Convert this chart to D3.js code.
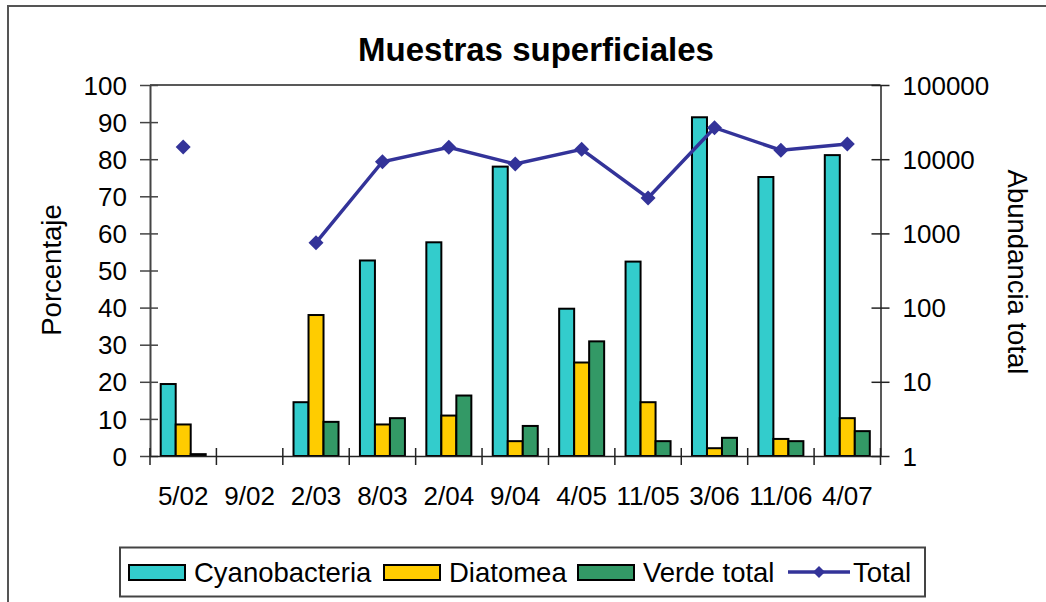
<!DOCTYPE html>
<html>
<head>
<meta charset="utf-8">
<script src="https://cdn.jsdelivr.net/npm/d3@7"></script>
<style>
html,body{margin:0;padding:0;background:#fff;}
svg{display:block;}
text{font-family:"Liberation Sans",Arial,sans-serif;fill:#000;}
</style>
</head>
<body>
<svg id="chart" width="1046" height="602"></svg>
<script>
const categories = ["5/02","9/02","2/03","8/03","2/04","9/04","4/05","11/05","3/06","11/06","4/07"];
const cyanobacteria = [19.4, null, 14.5, 52.7, 57.6, 78.0, 39.7, 52.4, 91.3, 75.2, 81.1];
const diatomea      = [8.5, null, 38.0, 8.5, 10.9, 4.0, 25.2, 14.5, 2.1, 4.6, 10.2];
const verdeTotal    = [0.5, null, 9.2, 10.2, 16.3, 8.1, 30.9, 4.0, 4.9, 4.0, 6.7];
const total         = [14600, null, 750, 9250, 14500, 8600, 13600, 3000, 26600, 13200, 16000];
const leftTicks  = [0,10,20,30,40,50,60,70,80,90,100];
const rightTicks = [1,10,100,1000,10000,100000];
const seriesNames = ["Cyanobacteria","Diatomea","Verde total","Total"];
const colors = ["#33CCCC","#FFCC00","#339966","#333399"];

const svg = d3.select("#chart");
const L = 150, R = 880.5, T = 85, B = 456;
const FS = 26;

// outer border
svg.append("rect").attr("x",8).attr("y",6).attr("width",1046).attr("height",610)
  .attr("fill","none").attr("stroke","#555").attr("stroke-width",2);

// title
svg.append("text").attr("x",536).attr("y",61).attr("text-anchor","middle")
  .style("font-size","33px").style("font-weight","bold").text("Muestras superficiales");

const x = d3.scaleBand().domain(categories).range([L,R]).padding(0);
const y = d3.scaleLinear().domain([0,100]).range([B,T]);
const yR = d3.scaleLog().domain([1,100000]).range([B,T]);

// top border of plot
svg.append("line").attr("x1",L).attr("x2",R).attr("y1",T).attr("y2",T).attr("stroke","#222").attr("stroke-width",1.5);

// bars
const barW = 15;
const series = [cyanobacteria, diatomea, verdeTotal];
const xs = d3.scaleBand().domain([0,1,2]).range([0, barW*3]);
series.forEach((vals, si) => {
  svg.append("g").selectAll("rect")
    .data(vals.map((v,i)=>({v, c:categories[i]})).filter(d=>d.v!=null))
    .join("rect")
    .attr("x", d => x(d.c) + x.bandwidth()/2 - barW*1.5 + xs(si))
    .attr("y", d => y(d.v))
    .attr("width", xs.bandwidth())
    .attr("height", d => B - y(d.v))
    .attr("fill", colors[si]).attr("stroke","#000").attr("stroke-width",2);
});

// left axis
const gl = svg.append("g").attr("transform",`translate(${L},0)`)
  .call(d3.axisLeft(y).tickValues(leftTicks).tickSize(0).tickPadding(23).tickSizeOuter(0));
gl.select(".domain").attr("stroke","#444").attr("stroke-width",2);
gl.selectAll(".tick line").remove();
gl.selectAll(".tick").append("line").attr("x1",-10).attr("x2",8).attr("stroke","#444").attr("stroke-width",1.5);
gl.selectAll("text").style("font-size",FS+"px").style("font-family","Liberation Sans, Arial, sans-serif").attr("fill","#000").attr("dy","0.35em");

// right axis
const gr = svg.append("g").attr("transform",`translate(${R},0)`)
  .call(d3.axisRight(yR).tickValues(rightTicks).tickFormat(d3.format("d")).tickSize(0).tickPadding(22).tickSizeOuter(0));
gr.select(".domain").attr("stroke","#222").attr("stroke-width",1.5);
gr.selectAll(".tick line").remove();
gr.selectAll(".tick").append("line").attr("x1",-9).attr("x2",9).attr("stroke","#222").attr("stroke-width",1.5);
gr.selectAll("text").style("font-size",FS+"px").style("font-family","Liberation Sans, Arial, sans-serif").attr("fill","#000").attr("dy","0.35em");

// bottom axis
const gb = svg.append("g").attr("transform",`translate(0,${B})`)
  .call(d3.axisBottom(x).tickSize(0).tickPadding(40).tickSizeOuter(0));
gb.select(".domain").attr("stroke","#222").attr("stroke-width",1.5);
gb.selectAll(".tick line").remove();
gb.selectAll("text").style("font-size",FS+"px").style("font-family","Liberation Sans, Arial, sans-serif").attr("fill","#000").attr("dy","0.35em");
const bTicks = x.domain().map(c => x(c)).concat([R]);
svg.append("g").selectAll("line").data(bTicks).join("line")
  .attr("x1",d=>d).attr("x2",d=>d).attr("y1",B-8).attr("y2",B+9)
  .attr("stroke","#222").attr("stroke-width",1.5);

// total line
const pts = total.map((v,i)=>({v, c:categories[i]}));
const line = d3.line().defined(d=>d.v!=null)
  .x(d=>x(d.c)+x.bandwidth()/2).y(d=>yR(d.v));
svg.append("path").datum(pts).attr("d",line).attr("fill","none")
  .attr("stroke",colors[3]).attr("stroke-width",3.5);
const diamond = (s) => `M0,${-s}L${s},0L0,${s}L${-s},0Z`;
svg.append("g").selectAll("path").data(pts.filter(d=>d.v!=null)).join("path")
  .attr("transform",d=>`translate(${x(d.c)+x.bandwidth()/2},${yR(d.v)})`)
  .attr("d",diamond(7.5)).attr("fill",colors[3]);

// axis titles
svg.append("text").attr("transform","translate(61,270) rotate(-90)").attr("text-anchor","middle")
  .style("font-size","27.5px").text("Porcentaje");
svg.append("text").attr("transform","translate(1008,272) rotate(90)").attr("text-anchor","middle")
  .style("font-size","27.5px").text("Abundancia total");

// legend
svg.append("rect").attr("x",120).attr("y",547.5).attr("width",805).attr("height",49)
  .attr("fill","#fff").attr("stroke","#444").attr("stroke-width",2);
const legX = [129, 384, 578, 788];
const lg = svg.append("g");
seriesNames.forEach((n,i) => {
  const g = lg.append("g").attr("transform",`translate(${legX[i]},0)`);
  if (i < 3) {
    g.append("rect").attr("x",0).attr("y",565).attr("width",56).attr("height",15)
      .attr("fill",colors[i]).attr("stroke","#000").attr("stroke-width",2);
    g.append("text").attr("x",65).attr("y",582).style("font-size","27.5px").text(n);
  } else {
    g.append("line").attr("x1",0).attr("x2",62).attr("y1",572).attr("y2",572)
      .attr("stroke",colors[3]).attr("stroke-width",3.5);
    g.append("path").attr("transform","translate(31,572)").attr("d",diamond(6)).attr("fill",colors[3]);
    g.append("text").attr("x",65).attr("y",582).style("font-size","27.5px").text(n);
  }
});
</script>
</body>
</html>
